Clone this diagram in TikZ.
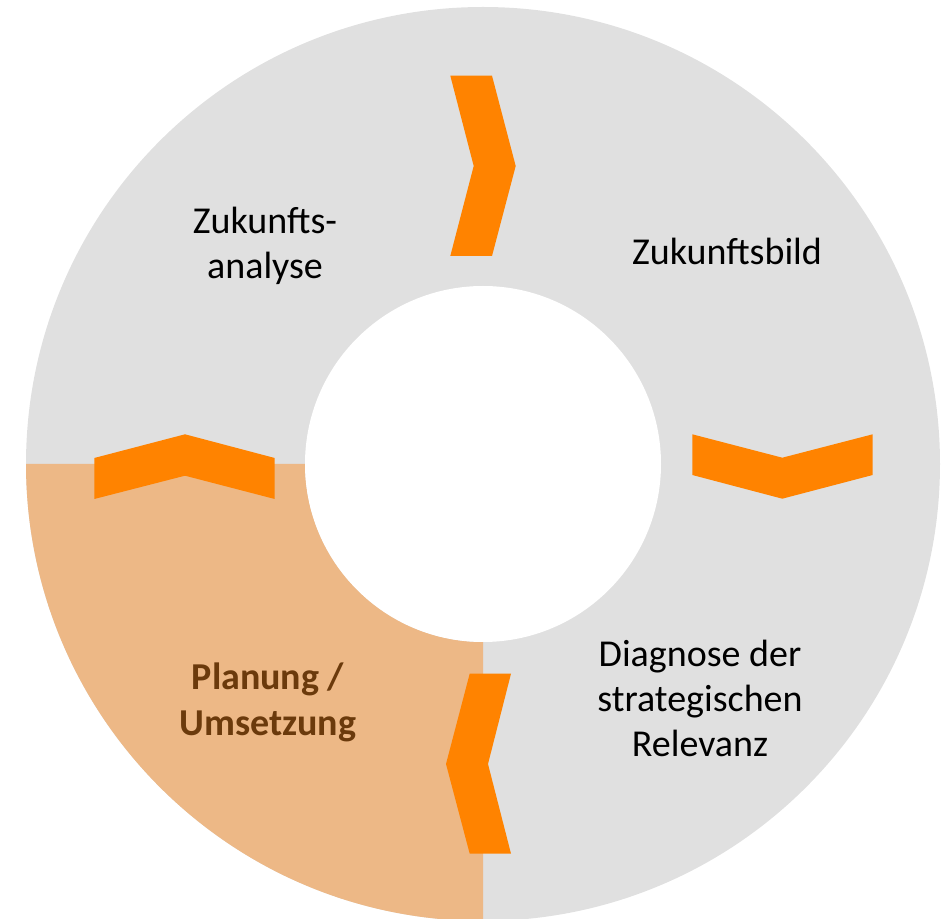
\documentclass[tikz,border=0pt]{standalone}
\usepackage{fontspec}
\setmainfont{Carlito}
\definecolor{ringgrey}{HTML}{E0E0E0}
\definecolor{planfill}{HTML}{EDB886}
\definecolor{chevron}{HTML}{FF8300}
\definecolor{plantext}{HTML}{6B3A0C}

\begin{document}
\begin{tikzpicture}[x=1pt,y=1pt,
  phase/.style={align=center,font=\fontsize{38}{45}\selectfont,text=black},
  plan phase/.style={phase,font=\fontsize{38}{46}\selectfont\bfseries,text=plantext},
  arrow/.style={fill=chevron}]

  \useasboundingbox (0,0) rectangle (946,919);
  \coordinate (c) at (483,455);

  \fill[ringgrey] (c) circle[radius=457];
  \fill[planfill] (c) ++(180:457) arc[start angle=180,end angle=270,radius=457]
    -- ++(0,279) arc[start angle=270,end angle=180,radius=178] -- cycle;
  \fill[white] (c) circle[radius=178];

  \fill[arrow] (450.3,843.3) -- (492,843.3) -- (515.7,753) -- (492,663)
    -- (450.3,663) -- (473.7,753) -- cycle;
  \fill[arrow] (692.3,484.7) -- (782.3,461.3) -- (872.7,484.7) -- (872.7,444)
    -- (782.3,420.3) -- (692.3,444) -- cycle;
  \fill[arrow] (469.7,245.3) -- (511,245.3) -- (488,155) -- (511,65.3)
    -- (469.7,65.3) -- (446,155) -- cycle;
  \fill[arrow] (94.3,420) -- (94.3,461) -- (185,484.7) -- (274.7,461)
    -- (274.7,420) -- (185,443.3) -- cycle;

  \node[phase] (analyse) at (265,673) {Zukunfts-\\analyse};
  \node[phase] (bild) at (727,668) {Zukunftsbild};
  \node[phase] (diagnose) at (700,221) {Diagnose der\\strategischen\\Relevanz};
  \node[plan phase] (planung) at (268,217) {Planung /\\Umsetzung};

\end{tikzpicture}
\end{document}
